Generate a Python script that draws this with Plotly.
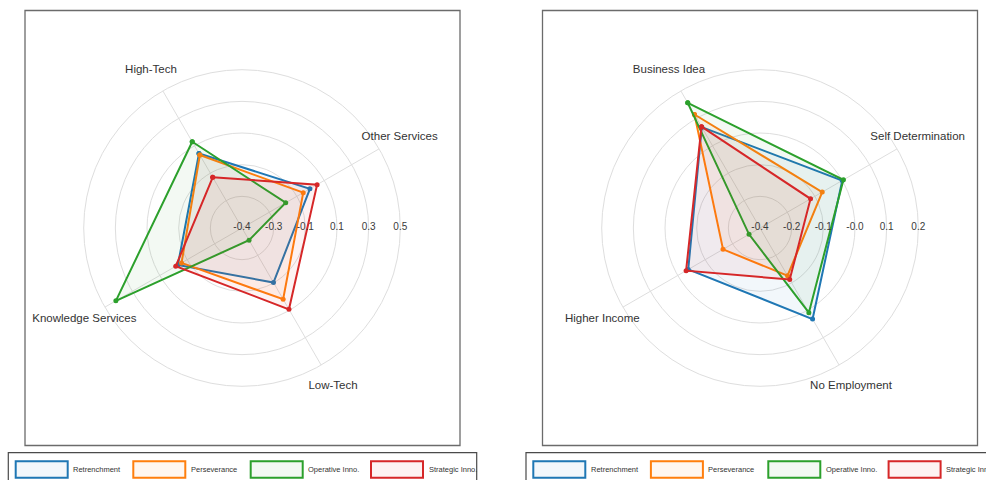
import plotly.graph_objects as go

# ---- data -------------------------------------------------------------
series_names = ["Retrenchment", "Perseverance", "Operative Inno.", "Strategic Inno."]
series_colors = ["#1f77b4", "#ff7f0e", "#2ca02c", "#d62728"]

sector_categories = ["High-Tech", "Other Services", "Low-Tech", "Knowledge Services"]
retrenchment_sector = [0.049, 0.006, -0.082, -0.019]
perseverance_sector = [0.039, -0.038, 0.028, -0.043]
operative_sector = [0.126, -0.153, -0.360, 0.388]
strategic_sector = [-0.107, 0.053, 0.094, -0.005]

motive_categories = ["Business Idea", "Self Determination", "No Employment", "Higher Income"]
retrenchment_motive = [0.063, -0.015, 0.022, -0.059]
perseverance_motive = [0.116, -0.099, -0.160, -0.205]
operative_motive = [0.165, -0.010, -0.005, -0.314]
strategic_motive = [0.065, -0.148, -0.144, -0.050]

# radial scale: first tick, tick step, tick labels
sector_r_start, sector_r_step = -0.44, 0.18
sector_tick_labels = ["-0.4", "-0.3", "-0.1", "0.1", "0.3", "0.5"]
motive_r_start, motive_r_step = -0.36, 0.115
motive_tick_labels = ["-0.4", "-0.2", "-0.1", "-0.0", "0.1", "0.2"]

# ---- styling ----------------------------------------------------------
W, H = 986, 480
FONT = "Liberation Sans, Arial, Helvetica, sans-serif"
GRID = "#dedede"
ROTATION = 120          # first category points up-left, then clockwise
LABEL_FACTOR = 1.15     # category labels sit just outside the outer ring
RANGE_FACTOR = 1.22     # room inside the polar area for the category labels
RING_RADIUS = 158.3     # outer ring radius in pixels
CY = 228


def rgba(hex_color, a):
    h = hex_color.lstrip("#")
    r, g, b = (int(h[i:i + 2], 16) for i in (0, 2, 4))
    return f"rgba({r},{g},{b},{a})"


def px_x(x):
    return x / W


def px_y(y):
    return 1 - y / H


fig = go.Figure()

panels = [
    dict(polar="polar", cats=sector_categories,
         values=[retrenchment_sector, perseverance_sector, operative_sector, strategic_sector],
         start=sector_r_start, step=sector_r_step, ticks=sector_tick_labels,
         cx=242, box=(25, 460), legend=(8.3, 476.7), legend_dx=0.0),
    dict(polar="polar2", cats=motive_categories,
         values=[retrenchment_motive, perseverance_motive, operative_motive, strategic_motive],
         start=motive_r_start, step=motive_r_step, ticks=motive_tick_labels,
         cx=760, box=(542.5, 977.5), legend=(526, 996), legend_dx=517.6),
]

layout_polars = {}
outer_px = RING_RADIUS * RANGE_FACTOR

for p in panels:
    n = len(p["cats"])
    theta = [i * 360 / n for i in range(n)]
    r_end = p["start"] + p["step"] * (len(p["ticks"]) - 1)
    r_max = p["start"] + (r_end - p["start"]) * RANGE_FACTOR
    tick_vals = [p["start"] + p["step"] * i for i in range(len(p["ticks"]))]

    # spokes from the centre to the outer ring
    spoke_r, spoke_t = [], []
    for t in theta:
        spoke_r += [p["start"], r_end, None]
        spoke_t += [t, t, None]
    fig.add_trace(go.Scatterpolar(
        r=spoke_r, theta=spoke_t, subplot=p["polar"], mode="lines",
        line=dict(color=GRID, width=1), showlegend=False, hoverinfo="skip",
    ))

    for name, color, vals in zip(series_names, series_colors, p["values"]):
        fig.add_trace(go.Scatterpolar(
            r=vals + vals[:1], theta=theta + theta[:1], subplot=p["polar"],
            mode="lines+markers", name=name, showlegend=False,
            line=dict(color=color, width=2),
            marker=dict(color=color, size=5),
            fill="toself", fillcolor=rgba(color, 0.06),
        ))

    # radial tick labels along the horizontal (screen angle 0) direction
    fig.add_trace(go.Scatterpolar(
        r=tick_vals, theta=[ROTATION] * len(tick_vals), subplot=p["polar"],
        mode="text", text=p["ticks"], textposition="middle center",
        textfont=dict(family=FONT, size=10, color="#3a3a3a"),
        showlegend=False, hoverinfo="skip", cliponaxis=False,
    ))

    # category labels outside the outer ring
    r_label = p["start"] + (r_end - p["start"]) * LABEL_FACTOR
    fig.add_trace(go.Scatterpolar(
        r=[r_label] * n, theta=theta, subplot=p["polar"],
        mode="text", text=p["cats"], textposition="middle center",
        textfont=dict(family=FONT, size=11.5, color="#333"),
        showlegend=False, hoverinfo="skip", cliponaxis=False,
    ))

    cx = p["cx"]
    layout_polars[p["polar"]] = dict(
        domain=dict(x=[px_x(cx - outer_px), px_x(cx + outer_px)],
                    y=[px_y(CY + outer_px), px_y(CY - outer_px)]),
        bgcolor="rgba(0,0,0,0)",
        radialaxis=dict(range=[p["start"], r_max], tickvals=tick_vals[1:],
                        showticklabels=False, ticks="", showline=False,
                        gridcolor=GRID, gridwidth=1),
        angularaxis=dict(type="linear", thetaunit="degrees", rotation=ROTATION,
                         direction="clockwise", tickvals=theta,
                         showticklabels=False, ticks="", showline=False,
                         showgrid=False),
    )

# ---- frames and legends -------------------------------------------------
shapes = []
annotations = []
legend_offsets = [15.7, 133.3, 250.7, 371.0]   # item starts within a legend row
BOX_W, BOX_H = 52, 16.5
for p in panels:
    x0, x1 = p["box"]
    shapes.append(dict(type="rect", xref="paper", yref="paper",
                       x0=px_x(x0), x1=px_x(x1), y0=px_y(445.5), y1=px_y(10.5),
                       line=dict(color="#6b6b6b", width=1.3), fillcolor="rgba(0,0,0,0)"))
    lx0, lx1 = p["legend"]
    shapes.append(dict(type="rect", xref="paper", yref="paper",
                       x0=px_x(lx0), x1=px_x(lx1), y0=px_y(490), y1=px_y(452.7),
                       line=dict(color="#4a4a4a", width=1.2), fillcolor="rgba(0,0,0,0)"))
    for off, name, color in zip(legend_offsets, series_names, series_colors):
        bx = off + p["legend_dx"]
        shapes.append(dict(type="rect", xref="paper", yref="paper",
                           x0=px_x(bx), x1=px_x(bx + BOX_W),
                           y0=px_y(461.3 + BOX_H), y1=px_y(461.3),
                           line=dict(color=color, width=2), fillcolor=rgba(color, 0.06)))
        annotations.append(dict(xref="paper", yref="paper", x=px_x(bx + BOX_W + 3.5),
                                y=px_y(469.6), text=name, showarrow=False,
                                xanchor="left", yanchor="middle",
                                font=dict(family=FONT, size=7.5, color="#333")))

fig.update_layout(
    width=W, height=H, margin=dict(l=0, r=0, t=0, b=0),
    paper_bgcolor="white", plot_bgcolor="white",
    showlegend=False, shapes=shapes, annotations=annotations,
    **layout_polars,
)

fig.write_html("out.html")
